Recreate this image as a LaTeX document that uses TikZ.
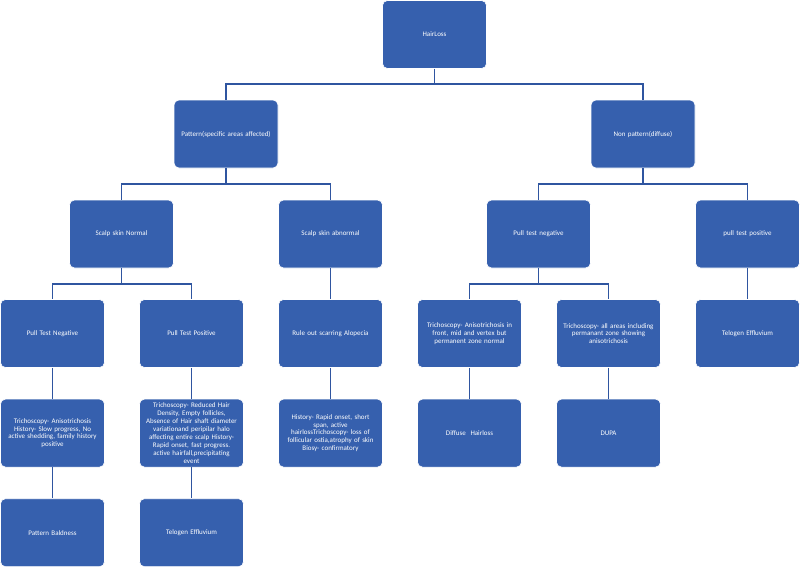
\documentclass[tikz,border=0pt]{standalone}
\usepackage{fontspec}
\setmainfont{Carlito}
\usetikzlibrary{positioning}
\definecolor{boxblue}{RGB}{54,96,174}
\definecolor{linkblue}{RGB}{47,85,160}
\tikzset{box/.style={draw=white,line width=0.6pt,fill=boxblue,rounded corners=5pt,text=white,align=center,minimum width=104pt,minimum height=68pt,text width=100pt,inner sep=0pt,font=\fontsize{7}{7.9}\selectfont},link/.style={draw=linkblue,line width=1.8pt}}

\begin{document}
\begin{tikzpicture}[x=1pt,y=1pt,node distance=31pt]
\useasboundingbox (0,0) rectangle (800,-568);
% top levels
\node[box] (hair) at (434.5,-34.5) {HairLoss};
\node[box] (pat) at (226,-134) {Pattern(specific areas affected)};
\node[box] (npat) at (643,-134) {Non pattern(diffuse)};
\node[box] (ssn) at (121.5,-234) {Scalp skin Normal};
\node[box] (ssa) at (330.5,-234) {Scalp skin abnormal};
\node[box] (ptn) at (538.5,-234) {Pull test negative};
\node[box] (ptp) at (747.5,-234) {pull test positive};
% fourth row
\node[box] (pneg) at (52.5,-333.5) {Pull Test Negative};
\node[box] (ppos) at (191.5,-333.5) {Pull Test Positive};
\node[box] (rule) at (330.5,-333.5) {Rule out scarring Alopecia};
\node[box] (tri1) at (469.5,-333.5) {Trichoscopy- Anisotrichosis in\\front, mid and vertex but\\permanent zone normal};
\node[box] (tri2) at (608.5,-333.5) {Trichoscopy- all areas including\\permanant zone showing\\anisotrichosis};
\node[box] (telo1) at (747.5,-333.5) {Telogen Effluvium};
% lower rows
\node[box,below=of pneg] (tri3) {Trichoscopy- Anisotrichosis\\History- Slow progress, No\\active shedding, family history\\positive};
\node[box,below=of ppos] (tri4) {Trichoscopy- Reduced Hair\\Density, Empty follicles,\\Absence of Hair shaft diameter\\variationand peripilar halo\\affecting entire scalp History-\\Rapid onset, fast progress.\\active hairfall,precipitating\\event};
\node[box,below=of rule] (hist) {History- Rapid onset, short\\span, active\\hairlossTrichoscopy- loss of\\follicular ostia,atrophy of skin\\Biosy- confirmatory};
\node[box,below=of tri1] (diff) {Diffuse\ \ Hairloss};
\node[box,below=of tri2] (dupa) {DUPA};
\node[box,below=of tri3] (bald) {Pattern Baldness};
\node[box,below=of tri4] (telo2) {Telogen Effluvium};
% connectors
\foreach \p/\c in {hair/pat,hair/npat,pat/ssn,pat/ssa,npat/ptn,npat/ptp,ssn/pneg,ssn/ppos,ptn/tri1,ptn/tri2}
  \draw[link] (\p.south) -- ++(0,-15.5) -| (\c.north);
\foreach \p/\c in {ssa/rule,ptp/telo1,pneg/tri3,tri3/bald,ppos/tri4,tri4/telo2,rule/hist,tri1/diff,tri2/dupa}
  \draw[link] (\p.south) -- (\c.north);
\end{tikzpicture}
\end{document}
